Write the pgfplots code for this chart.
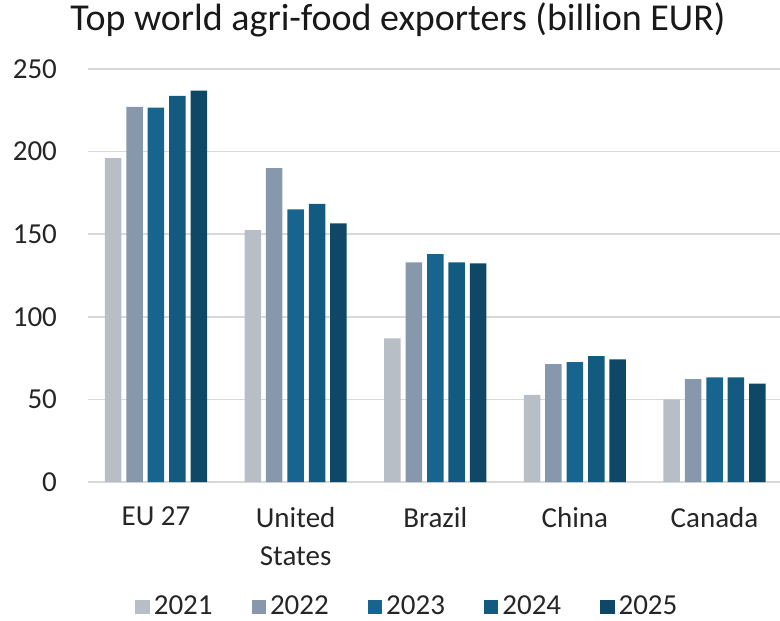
\documentclass[border=0pt]{standalone}
\usepackage{pgfplots}
\pgfplotsset{compat=1.18}
\usepackage{fontspec}
\setmainfont{Carlito}
\definecolor{c21}{HTML}{B8BEC6}
\definecolor{c22}{HTML}{8798AC}
\definecolor{c23}{HTML}{17658F}
\definecolor{c24}{HTML}{125A80}
\definecolor{c25}{HTML}{0E4866}
\definecolor{gridc}{HTML}{D9D9D9}
\begin{document}
\begin{tikzpicture}
\useasboundingbox (0,0) rectangle (390pt,310pt);
\begin{axis}[
  at={(44pt,69pt)}, anchor=south west,
  scale only axis, width=346pt, height=206.5pt,
  ybar=2.45pt, bar width=8.25pt,
  xmin=-0.487, xmax=4.469,
  ymin=0, ymax=250,
  ytick={0,50,100,150,200,250},
  xtick=data,
  xticklabels={EU 27,{United\\States},Brazil,China,Canada},
  axis line style={draw=none},
  major tick length=0pt,
  ymajorgrids, grid style={gridc, line width=0.8pt},
  /pgf/number format/assume math mode=true,
  tick label style={font=\fontsize{14.5}{19}\selectfont, text=black!85},
  yticklabel style={xshift=-12pt},
  xticklabel style={align=center, yshift=-9pt},
  title={Top world agri-food exporters (billion EUR)},
  title style={at={(0.448,1.0896)}, anchor=center, font=\fontsize{19}{23}\selectfont, text=black!90},
  legend style={at={(0.463,-0.3027)}, anchor=center, draw=none, fill=none,
    legend columns=5, font=\fontsize{14.5}{17}\selectfont, text=black!85,
    /tikz/every even column/.append style={column sep=17.5pt}},
  legend image code/.code={\fill[#1] (0pt,-3.6pt) rectangle (7.2pt,3.6pt);},
]
\addplot[fill=c21, draw=none] coordinates {(0,196) (1,152.5) (2,87) (3,52.7) (4,50)};
\addplot[fill=c22, draw=none] coordinates {(0,227) (1,190) (2,133) (3,71.4) (4,62.3)};
\addplot[fill=c23, draw=none] coordinates {(0,226.6) (1,165) (2,138) (3,72.6) (4,63.4)};
\addplot[fill=c24, draw=none] coordinates {(0,233.7) (1,168.3) (2,133) (3,76.2) (4,63.4)};
\addplot[fill=c25, draw=none] coordinates {(0,236.9) (1,156.6) (2,132.4) (3,74.3) (4,59.5)};
\legend{2021,2022,2023,2024,2025}
\end{axis}
\end{tikzpicture}
\end{document}
